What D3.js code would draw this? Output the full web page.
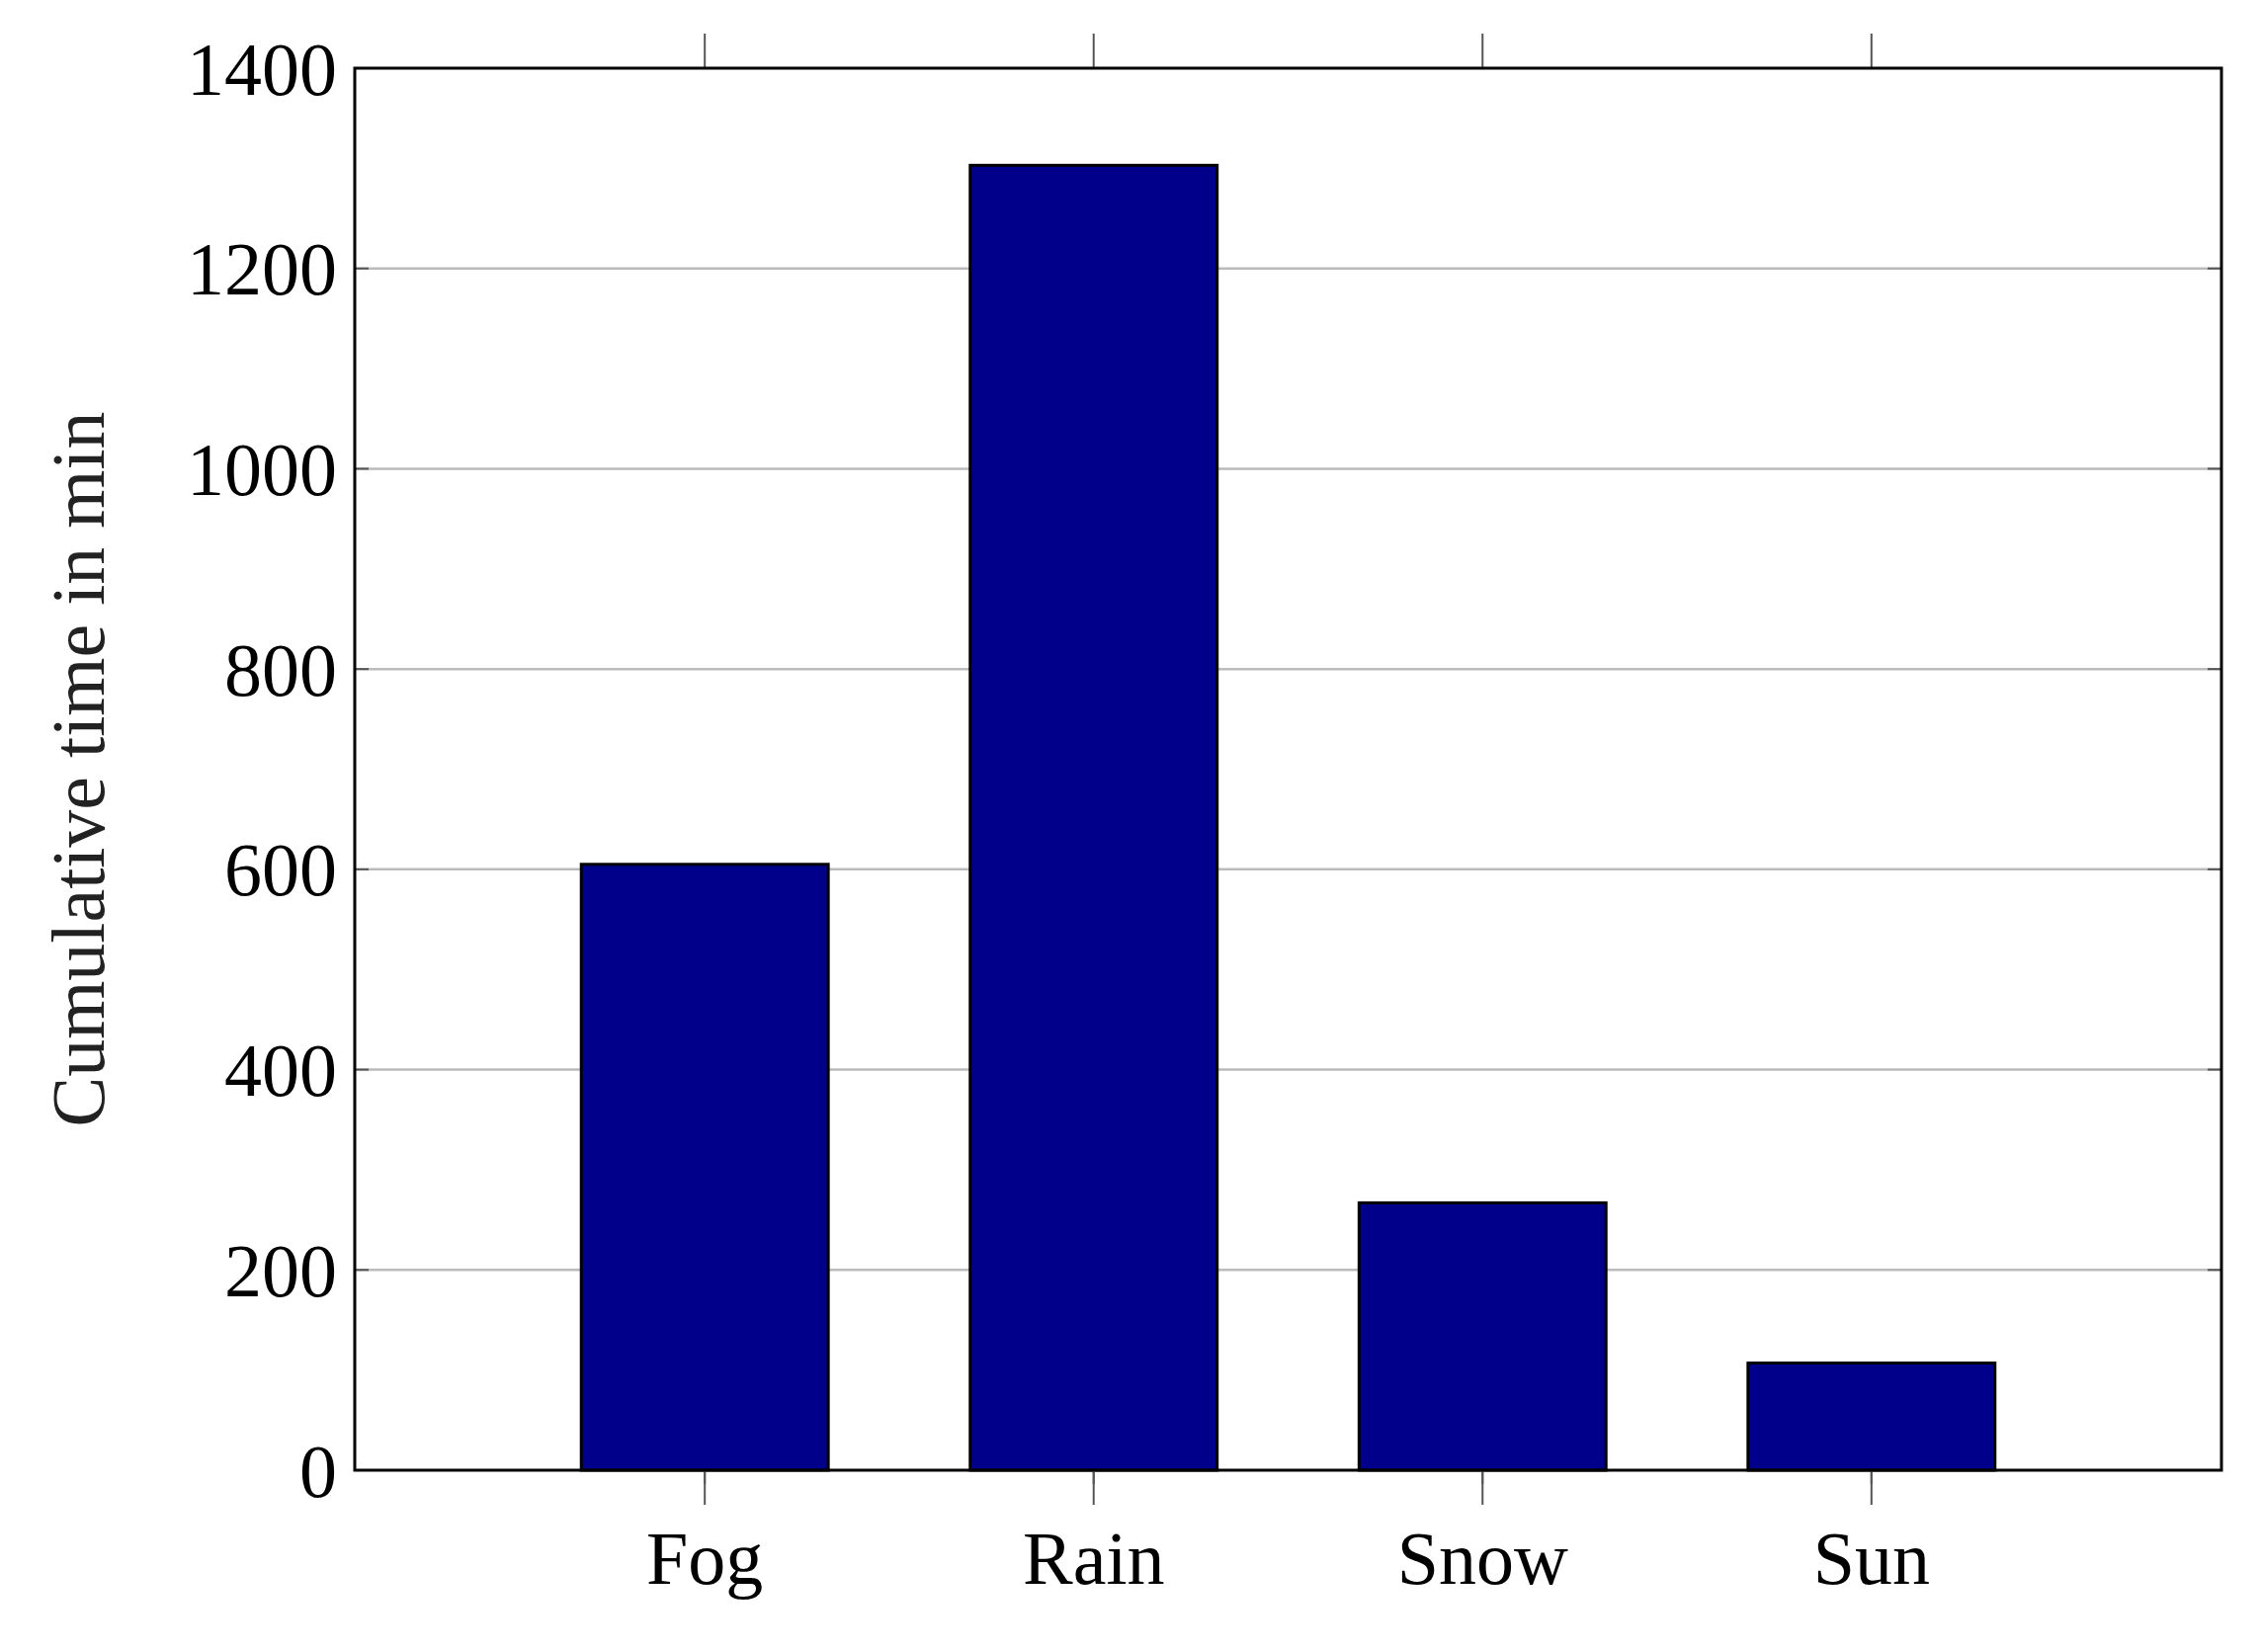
<!DOCTYPE html>
<html><head><meta charset="utf-8">
<script src="https://cdn.jsdelivr.net/npm/d3@7"></script>
<style>body{margin:0;background:#fff}text{font-family:"Liberation Serif","DejaVu Serif",serif}</style>
</head><body><svg id="c" width="2287" height="1672"></svg>
<script>
const categories = ['Fog', 'Rain', 'Snow', 'Sun'];
const values = [605, 1303, 267, 107];
const yTicks = [0, 200, 400, 600, 800, 1000, 1200, 1400];

const L = 359, R = 2248, T = 69, B = 1488;
const svg = d3.select('#c');
const x = d3.scaleLinear().domain([-0.9, 3.9]).range([L, R]);
const y = d3.scaleLinear().domain([0, 1400]).range([B, T]);
const bw = (x(1) - x(0)) * 0.635;

// grid
svg.selectAll('.g').data(yTicks.slice(1, -1)).enter().append('line')
  .attr('x1', L).attr('x2', R).attr('y1', d => y(d)).attr('y2', d => y(d))
  .attr('stroke', '#bbb').attr('stroke-width', 2.5);

// bars
svg.selectAll('rect.bar').data(values).enter().append('rect')
  .attr('x', (d, i) => x(i) - bw / 2).attr('width', bw)
  .attr('y', d => y(d)).attr('height', d => B - y(d))
  .attr('fill', '#00008b').attr('stroke', '#000').attr('stroke-width', 3);

// ticks
const tk = 14;
yTicks.forEach(v => {
  svg.append('line').attr('x1', L).attr('x2', L + tk).attr('y1', y(v)).attr('y2', y(v)).attr('stroke', '#555').attr('stroke-width', 2);
  svg.append('line').attr('x1', R).attr('x2', R - tk).attr('y1', y(v)).attr('y2', y(v)).attr('stroke', '#555').attr('stroke-width', 2);
  svg.append('text').attr('x', L - 18).attr('y', y(v)).attr('dy', '0.35em')
    .attr('text-anchor', 'end').attr('font-size', 76).text(v);
});
categories.forEach((c, i) => {
  svg.append('line').attr('x1', x(i)).attr('x2', x(i)).attr('y1', B).attr('y2', B + tk).attr('stroke', '#555').attr('stroke-width', 2);
  svg.append('line').attr('x1', x(i)).attr('x2', x(i)).attr('y1', T).attr('y2', T - 35).attr('stroke', '#555').attr('stroke-width', 2);
  svg.append('line').attr('x1', x(i)).attr('x2', x(i)).attr('y1', B).attr('y2', B + 35).attr('stroke', '#555').attr('stroke-width', 2);
  svg.append('text').attr('x', x(i)).attr('y', B + 115).attr('text-anchor', 'middle')
    .attr('font-size', 76).text(c);
});

svg.append('rect').attr('x', L).attr('y', T).attr('width', R - L).attr('height', B - T)
  .attr('fill', 'none').attr('stroke', '#000').attr('stroke-width', 3);

svg.append('text').attr('transform', `translate(105,${(T + B) / 2}) rotate(-90)`)
  .attr('text-anchor', 'middle').attr('font-size', 76).attr('fill', '#222')
  .text('Cumulative time in min');
</script></body></html>
